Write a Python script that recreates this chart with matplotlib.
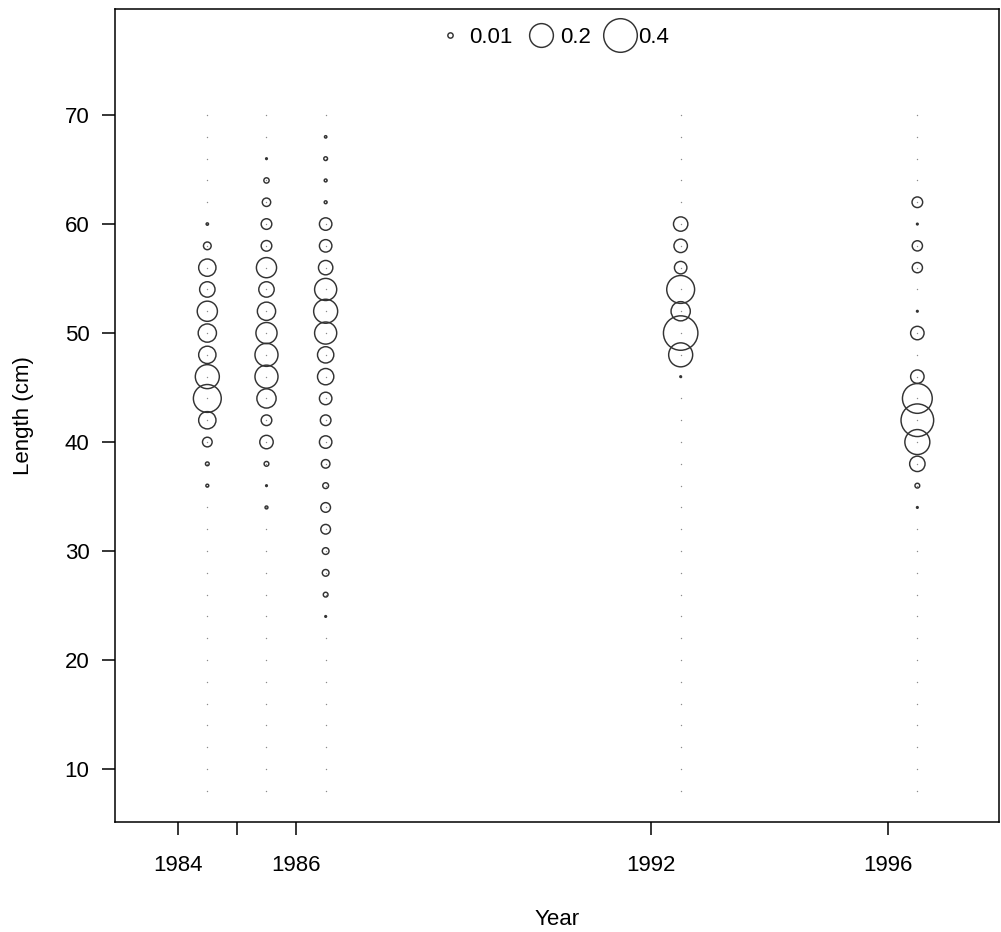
import numpy as np
import matplotlib.pyplot as plt
from matplotlib.lines import Line2D

plt.rcParams['font.family'] = ['Liberation Sans', 'DejaVu Sans']

# length bins (cm)
lengths = [8, 10, 12, 14, 16, 18, 20, 22, 24, 26, 28, 30, 32, 34, 36, 38,
           40, 42, 44, 46, 48, 50, 52, 54, 56, 58, 60, 62, 64, 66, 68, 70]

# sample years (plotted at mid-year)
years = [1984.5, 1985.5, 1986.5, 1992.5, 1996.5]

# proportions at length, one list per year, same order as lengths
p1984 = [0, 0, 0, 0, 0, 0, 0, 0, 0, 0, 0, 0, 0, 0, 0.003, 0.005,
         0.033, 0.106, 0.275, 0.204, 0.106, 0.118, 0.144, 0.084, 0.106, 0.021, 0.002, 0, 0, 0, 0, 0]
p1985 = [0, 0, 0, 0, 0, 0, 0, 0, 0, 0, 0, 0, 0, 0.003, 0.001, 0.008,
         0.064, 0.040, 0.131, 0.188, 0.188, 0.158, 0.118, 0.084, 0.144, 0.040, 0.040, 0.025, 0.010, 0.001, 0, 0]
p1986 = [0, 0, 0, 0, 0, 0, 0, 0, 0.001, 0.008, 0.016, 0.016, 0.033, 0.033, 0.012, 0.026,
         0.055, 0.040, 0.055, 0.094, 0.094, 0.173, 0.204, 0.173, 0.073, 0.055, 0.055, 0.003, 0.003, 0.005, 0.002, 0]
p1992 = [0, 0, 0, 0, 0, 0, 0, 0, 0, 0, 0, 0, 0, 0, 0, 0,
         0, 0, 0, 0.001, 0.204, 0.420, 0.131, 0.275, 0.055, 0.064, 0.073, 0, 0, 0, 0, 0]
p1996 = [0, 0, 0, 0, 0, 0, 0, 0, 0, 0, 0, 0, 0, 0.001, 0.008, 0.084,
         0.221, 0.377, 0.314, 0.064, 0, 0.064, 0.001, 0, 0.037, 0.037, 0.001, 0.040, 0, 0, 0, 0]
props = [p1984, p1985, p1986, p1992, p1996]

legend_vals = [0.01, 0.2, 0.4]
legend_labels = ['0.01', '0.2', '0.4']

xticks = [1984, 1985, 1986, 1992, 1996]
xticklabels = ['1984', '', '1986', '1992', '1996']
yticks = [10, 20, 30, 40, 50, 60, 70]

# marker diameter (pt) for a proportion; area proportional to value
def msize(p):
    return 24.2 * np.sqrt(np.asarray(p, dtype=float) / 0.4)

fig = plt.figure(figsize=(10.01, 9.32), dpi=100)
ax = fig.add_axes([0.1149, 0.118, 0.8831, 0.872])

for yr, p in zip(years, props):
    p = np.array(p)
    x = np.full(len(lengths), yr)
    ln = np.array(lengths)
    # faint dots at every bin
    ax.scatter(x, ln, s=4, marker='.', color='#8c8c8c', linewidths=0, zorder=1)
    nz = p > 0
    ax.scatter(x[nz], ln[nz], s=msize(p[nz]) ** 2, facecolors='none',
               edgecolors='#333333', linewidths=1.05, zorder=2)

handles = [Line2D([], [], linestyle='none', marker='o', markersize=float(msize(v)),
                  markerfacecolor='none', markeredgecolor='#333333', markeredgewidth=1.05)
           for v in legend_vals]
ax.legend(handles, legend_labels, loc='upper center', bbox_to_anchor=(0.493, 1.0),
          ncol=3, frameon=False, fontsize=16, handlelength=1.6, handletextpad=0.05,
          columnspacing=0.5, borderpad=0.2, borderaxespad=0.6)

ax.set_xlim(1982.94, 1997.88)
ax.set_ylim(5.14, 79.7)
ax.set_xticks(xticks)
ax.set_xticklabels(xticklabels)
ax.set_yticks(yticks)
ax.tick_params(axis='both', direction='out', length=9.4, width=1.1, labelsize=16)
ax.tick_params(axis='x', pad=14)
ax.tick_params(axis='y', pad=9)
for sp in ax.spines.values():
    sp.set_linewidth(1.1)

ax.set_xlabel('Year', fontsize=16, labelpad=24)
ax.set_ylabel('Length (cm)', fontsize=16, labelpad=22)

plt.savefig('out.png', dpi=100)
